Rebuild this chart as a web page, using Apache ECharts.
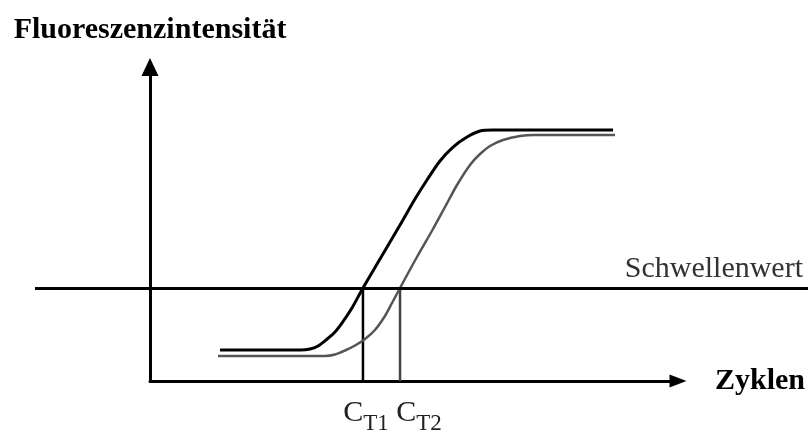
<!DOCTYPE html>
<html>
<head>
<meta charset="utf-8">
<script src="https://cdn.jsdelivr.net/npm/echarts@6/dist/echarts.min.js"></script>
<style>
  html, body { margin: 0; padding: 0; background: #fff; }
  #chart { width: 810px; height: 432px; }
</style>
</head>
<body>
<div id="chart"></div>
<script>
// Kurven: [Zyklus, Fluoreszenz] (willkuerliche Einheiten)
var curve1 = [[6.36, 9.87], [13.64, 9.87], [14.55, 10.19], [15.27, 11.15], [16.00, 13.06], [16.73, 15.29],
  [17.45, 18.47], [18.36, 23.25], [19.36, 29.62], [20.91, 38.85], [22.73, 49.68], [24.09, 57.96],
  [25.18, 64.01], [26.36, 70.06], [27.55, 74.52], [28.82, 77.71], [30.00, 79.62], [31.18, 79.94], [42.09, 79.94]];
var curve2 = [[6.18, 7.96], [15.91, 7.96], [16.82, 8.44], [17.73, 9.71], [18.64, 11.31], [19.55, 13.38],
  [20.45, 16.24], [21.36, 20.70], [22.00, 24.84], [22.73, 29.62], [24.27, 39.49], [25.73, 48.41],
  [26.82, 55.41], [27.91, 62.42], [29.09, 68.79], [30.00, 72.29], [30.91, 74.84], [32.09, 76.75],
  [33.64, 78.03], [35.00, 78.34], [42.27, 78.34]];
// Schwellenwert und CT-Werte
var threshold = 29.62;
var ctValues = [19.36, 22.73];
var ctNames = ['T1', 'T2'];
var ctColors = ['#000', '#444'];
// Achsenbereich
var xMax = 48;
var yMax = 100;

var serif = '"Liberation Serif", "DejaVu Serif", serif';

var chart = echarts.init(document.getElementById('chart'));

// senkrechte Linien vom Schwellenwert zur x-Achse, mit Beschriftung C_T1 / C_T2
var labelShift = [3, 19];
var ctSeries = ctValues.map(function (v, i) {
  return {
    type: 'line',
    xAxisIndex: 0,
    yAxisIndex: 0,
    symbol: 'none',
    clip: false,
    data: [
      [v, threshold],
      {
        value: [v, 0],
        symbol: 'circle',
        symbolSize: 1,
        label: {
          show: true,
          position: 'bottom',
          distance: 15,
          offset: [labelShift[i], 0],
          formatter: '{c|C}{s|' + ctNames[i] + '}',
          rich: {
            // height steuert die Lage der Grundlinie (Tiefstellung)
            c: { fontFamily: serif, fontSize: 30, color: '#222', verticalAlign: 'top', height: 34, lineHeight: 40 },
            s: { fontFamily: serif, fontSize: 23, color: '#222', verticalAlign: 'bottom', height: 26, lineHeight: 26 }
          }
        }
      }
    ],
    lineStyle: { color: ctColors[i], width: 2.5 },
    itemStyle: { color: ctColors[i] },
    z: 3
  };
});

var option = {
  animation: false,
  backgroundColor: '#fff',
  grid: [
    { left: 150, top: 67, width: 528, height: 314 },
    { left: 35, right: 2, top: 67, height: 314 }
  ],
  xAxis: [
    {
      type: 'value',
      gridIndex: 0,
      min: 0,
      max: xMax,
      name: 'Zyklen',
      nameLocation: 'end',
      nameGap: 37,
      nameTextStyle: { fontFamily: serif, fontSize: 30, fontWeight: 'bold', color: '#000' },
      axisLine: { show: true, symbol: ['none', 'triangle'], symbolSize: [13, 17], lineStyle: { color: '#000', width: 3 } },
      axisTick: { show: false },
      axisLabel: { show: false },
      splitLine: { show: false }
    },
    {
      type: 'value',
      gridIndex: 1,
      min: 0,
      max: 100,
      show: false
    }
  ],
  yAxis: [
    {
      type: 'value',
      gridIndex: 0,
      min: 0,
      max: yMax,
      name: 'Fluoreszenzintensität',
      nameLocation: 'end',
      nameGap: 22,
      nameTextStyle: { fontFamily: serif, fontSize: 30, fontWeight: 'bold', color: '#000', align: 'center' },
      axisLine: { show: true, symbol: ['none', 'triangle'], symbolSize: [17, 18], lineStyle: { color: '#000', width: 3 } },
      axisTick: { show: false },
      axisLabel: { show: false },
      splitLine: { show: false }
    },
    {
      type: 'value',
      gridIndex: 1,
      min: 0,
      max: yMax,
      show: false
    }
  ],
  series: [
    {
      name: 'Schwellenwert',
      type: 'line',
      xAxisIndex: 1,
      yAxisIndex: 1,
      data: [],
      markLine: {
        silent: true,
        symbol: 'none',
        lineStyle: { color: '#000', width: 3, type: 'solid' },
        label: {
          show: true,
          position: 'insideEndTop',
          formatter: 'Schwellenwert',
          fontFamily: serif,
          fontSize: 30,
          color: '#333',
          distance: [5, 4]
        },
        data: [{ yAxis: threshold }]
      }
    },
    {
      name: 'Probe 1',
      type: 'line',
      xAxisIndex: 0,
      yAxisIndex: 0,
      symbol: 'none',
      smooth: 0.3,
      data: curve1,
      lineStyle: { color: '#000', width: 3 },
      z: 4
    },
    {
      name: 'Probe 2',
      type: 'line',
      xAxisIndex: 0,
      yAxisIndex: 0,
      symbol: 'none',
      smooth: 0.3,
      data: curve2,
      lineStyle: { color: '#555', width: 2.5 },
      z: 4
    }
  ].concat(ctSeries)
};

chart.setOption(option);
</script>
</body>
</html>
